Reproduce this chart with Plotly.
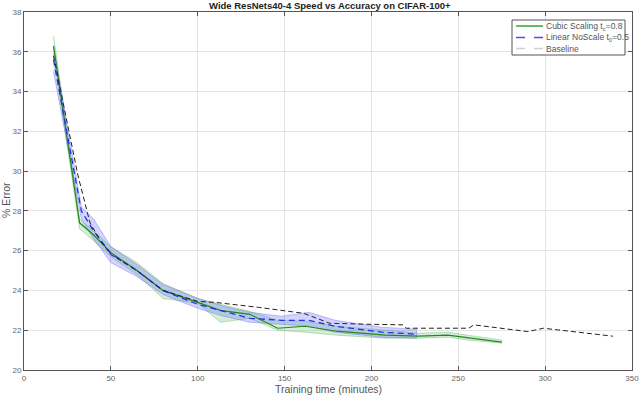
import plotly.graph_objects as go

# ---- data ----
cub_x = [17, 32, 40, 50, 65, 80, 100, 113, 130, 146, 162, 180, 208, 227, 244, 256, 275]
cub_y = [36.3, 27.4, 26.8, 25.9, 25.0, 24.0, 23.4, 23.0, 22.8, 22.1, 22.2, 21.95, 21.75, 21.7, 21.75, 21.6, 21.4]
cub_hi = [36.8, 27.6, 27.0, 26.2, 25.4, 24.35, 23.6, 23.3, 22.95, 22.5, 22.45, 22.2, 22.0, 21.85, 21.9, 21.75, 21.5]
cub_lo = [35.9, 27.1, 26.5, 25.7, 24.8, 23.6, 23.35, 22.4, 22.6, 22.0, 21.9, 21.75, 21.6, 21.6, 21.65, 21.5, 21.35]

lin_x = [17, 33, 40, 50, 65, 80, 100, 115, 130, 148, 164, 179, 206, 226]
lin_y = [35.6, 28.0, 27.0, 25.85, 25.0, 24.0, 23.3, 22.95, 22.6, 22.5, 22.5, 22.2, 21.9, 21.8]
lin_hi = [36.3, 28.2, 27.6, 26.2, 25.3, 24.3, 23.6, 23.2, 22.9, 22.7, 22.9, 22.5, 22.15, 22.05]
lin_lo = [35.0, 27.6, 26.6, 25.4, 24.7, 23.8, 23.1, 22.7, 22.4, 22.3, 22.2, 21.9, 21.65, 21.6]

base_x = [17, 31, 38, 44, 50, 65, 80, 100, 110, 135, 161, 176, 198, 218, 220, 256, 259, 290, 299, 339]
base_y = [35.8, 29.8, 27.4, 26.5, 25.8, 25.0, 24.0, 23.45, 23.4, 23.15, 22.85, 22.35, 22.3, 22.27, 22.1, 22.1, 22.27, 21.93, 22.1, 21.7]

x_ticks = [0, 50, 100, 150, 200, 250, 300, 350]
y_ticks = [20, 22, 24, 26, 28, 30, 32, 34, 36, 38]

legend_names = ["Cubic Scaling t<sub>c</sub>=0.8", "Linear NoScale t<sub>0</sub>=0.5", "Baseline"]

FONT = "Liberation Sans, Arial, sans-serif"

# plot-area geometry in pixels (for placing the hand-drawn legend / titles)
L, R, T, B = 24, 632, 12, 370


def px(x):
    return (x - L) / (R - L)


def py(y):
    return (B - y) / (B - T)


fig = go.Figure()

# bands
fig.add_trace(go.Scatter(
    x=cub_x + cub_x[::-1], y=cub_hi + cub_lo[::-1], fill="toself",
    fillcolor="rgba(120,200,120,0.30)", line=dict(color="rgba(80,170,80,0.45)", width=0.8),
    hoverinfo="skip", showlegend=False))
fig.add_trace(go.Scatter(
    x=lin_x + lin_x[::-1], y=lin_hi + lin_lo[::-1], fill="toself",
    fillcolor="rgba(110,110,255,0.30)", line=dict(color="rgba(90,90,255,0.45)", width=0.8),
    hoverinfo="skip", showlegend=False))

# mean lines
fig.add_trace(go.Scatter(x=cub_x, y=cub_y, mode="lines",
                         line=dict(color="#1f8a1f", width=1.2), showlegend=False))
fig.add_trace(go.Scatter(x=lin_x, y=lin_y, mode="lines",
                         line=dict(color="#2233ee", width=1.3, dash="6px,4px"), showlegend=False))
fig.add_trace(go.Scatter(x=base_x, y=base_y, mode="lines",
                         line=dict(color="#222222", width=1.0, dash="5px,3px"), showlegend=False))

axis_common = dict(
    showline=True, linecolor="#555555", linewidth=1, mirror="allticks",
    ticks="inside", ticklen=4, tickcolor="#555555",
    showgrid=True, gridcolor="#e4e4e4", gridwidth=1, zeroline=False,
    tickfont=dict(family=FONT, size=8, color="#666666"),
)

# hand-drawn MATLAB-style legend
shapes = [dict(type="rect", xref="paper", yref="paper",
               x0=px(512), x1=px(625), y0=py(55), y1=py(20),
               fillcolor="white", line=dict(color="#555555", width=1), layer="above")]
leg_styles = [dict(color="#66bb66", width=2),
              dict(color="#4455ee", width=1.5, dash="dash"),
              dict(color="#d0d0d0", width=1.5, dash="dash")]
row_y = [26.0, 37.5, 48.5]
annotations = []
for name, st, ry in zip(legend_names, leg_styles, row_y):
    shapes.append(dict(type="line", xref="paper", yref="paper",
                       x0=px(516), x1=px(543), y0=py(ry), y1=py(ry),
                       line=st, layer="above"))
    annotations.append(dict(text=name, xref="paper", yref="paper",
                            x=px(544), y=py(ry), xanchor="left", yanchor="middle",
                            showarrow=False,
                            font=dict(family=FONT, size=8.5, color="#555555")))

annotations += [
    dict(text="<b>Wide ResNets40-4 Speed vs Accuracy on CIFAR-100+</b>", xref="paper", yref="paper",
         x=px(330), y=py(5.5), xanchor="center", yanchor="middle", showarrow=False,
         font=dict(family=FONT, size=9.5, color="#222222")),
    dict(text="Training time (minutes)", xref="paper", yref="paper",
         x=px(328), y=py(389), xanchor="center", yanchor="middle", showarrow=False,
         font=dict(family=FONT, size=10.5, color="#555555")),
    dict(text="% Error", xref="paper", yref="paper", textangle=-90,
         x=px(6), y=py(200), xanchor="center", yanchor="middle", showarrow=False,
         font=dict(family=FONT, size=10.5, color="#555555")),
]

fig.update_layout(
    width=640, height=395,
    margin=dict(l=L, r=640 - R, t=T, b=395 - B),
    paper_bgcolor="white", plot_bgcolor="white",
    font=dict(family=FONT, color="#333333"),
    showlegend=False,
    xaxis=dict(range=[0, 350], tickvals=x_ticks, automargin=False,
               ticklabelstandoff=0, **axis_common),
    yaxis=dict(range=[20, 38], tickvals=y_ticks, automargin=False, **axis_common),
    shapes=shapes,
    annotations=annotations,
)

fig.write_html("out.html", config={"displayModeBar": False},
               post_script="document.body.style.margin='0';")
